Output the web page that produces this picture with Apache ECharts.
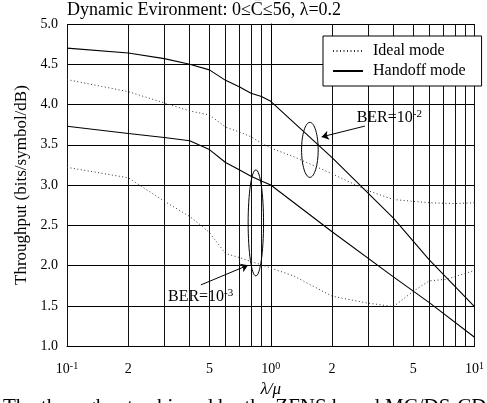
<!DOCTYPE html>
<html>
<head>
<meta charset="utf-8">
<script src="https://cdn.jsdelivr.net/npm/echarts@6/dist/echarts.min.js"></script>
<style>
  html, body { margin: 0; padding: 0; background: #fff; }
  #chart { width: 487px; height: 403px; }
</style>
</head>
<body>
<div id="chart"></div>
<script>
// lambda/mu values and throughput
var idealHighX = [0.1, 0.2, 0.3, 0.4, 0.5, 0.6, 0.7, 0.8, 0.9, 1, 1.3, 2, 3, 4, 6, 8, 10]
var idealHighY = [4.31, 4.16, 4.02, 3.92, 3.87, 3.72, 3.66, 3.60, 3.52, 3.46, 3.35, 3.14, 2.93, 2.82, 2.78, 2.77, 2.78]
var idealLowX = [0.1, 0.2, 0.3, 0.4, 0.47, 0.5, 0.6, 0.7, 0.8, 0.9, 1, 1.3, 2, 2.9, 4, 5, 6, 7.3, 10]
var idealLowY = [3.22, 3.09, 2.80, 2.61, 2.47, 2.41, 2.15, 2.10, 2.05, 2.01, 1.97, 1.87, 1.62, 1.54, 1.49, 1.68, 1.81, 1.83, 1.94]
var handoffHighX = [0.1, 0.2, 0.3, 0.4, 0.5, 0.6, 0.7, 0.8, 0.9, 1, 2, 4, 6, 10]
var handoffHighY = [4.70, 4.64, 4.57, 4.50, 4.43, 4.30, 4.22, 4.14, 4.10, 4.04, 3.34, 2.59, 2.07, 1.49]
var handoffLowX = [0.1, 0.2, 0.3, 0.4, 0.5, 0.6, 0.7, 0.8, 0.9, 1, 2, 4, 6, 10]
var handoffLowY = [3.73, 3.64, 3.59, 3.55, 3.44, 3.28, 3.19, 3.11, 3.05, 3.00, 2.42, 1.86, 1.54, 1.11]

// grid lines of the log axis and the ones that get a label
var xGridValues = [0.1, 0.2, 0.3, 0.4, 0.5, 0.6, 0.7, 0.8, 0.9, 1, 2, 3, 4, 5, 6, 7, 8, 9, 10]
var xLabelValues = [0.1, 0.2, 0.5, 1, 2, 5, 10]
var yTicks = [1.0, 1.5, 2.0, 2.5, 3.0, 3.5, 4.0, 4.5, 5.0]

// annotations: [x, y] in data units
var ber2Ellipse = [1.556, 3.437]
var ber3Ellipse = [0.845, 2.53]
var ber2Arrow = [[2.896, 3.732], [1.777, 3.598]]
var ber3Arrow = [[0.454, 1.760], [0.773, 2.004]]
var ber2Text = [2.64, 3.84]
var ber3Text = [0.313, 1.61]

var serif = 'Liberation Serif'

function toPts(xs, ys) {
    var out = []
    for (var i = 0; i < xs.length; i++) {
        out.push([Math.log10(xs[i]), ys[i]])
    }
    return out
}

function arrowLine(a) {
    return [
        { coord: [Math.log10(a[0][0]), a[0][1]], symbol: 'none' },
        { coord: [Math.log10(a[1][0]), a[1][1]], symbol: 'arrow' }
    ]
}

var dotted = { color: '#333', width: 1, type: [1, 2.5] }
var solid = { color: '#000', width: 1.1, type: 'solid' }

var chart = echarts.init(document.getElementById('chart'))

var option = {
    animation: false,
    backgroundColor: '#fff',
    textStyle: { fontFamily: serif, color: '#000' },
    title: {
        text: 'Dynamic Evironment: 0\u2264C\u0304\u226456, \u03bb=0.2',
        left: 67,
        top: 1,
        padding: 0,
        textStyle: { fontFamily: serif, fontSize: 18, fontWeight: 'normal', color: '#000' }
    },
    legend: {
        data: ['Ideal mode', 'Handoff mode'],
        orient: 'vertical',
        left: 323,
        top: 36,
        padding: [7, 16, 7, 9],
        itemGap: 4,
        itemWidth: 30,
        itemHeight: 14,
        backgroundColor: '#fff',
        borderColor: '#000',
        borderWidth: 1,
        borderRadius: 0,
        selectedMode: false,
        itemStyle: { opacity: 0, borderWidth: 0 },
        textStyle: { fontFamily: serif, fontSize: 16, color: '#000', padding: [0, 0, 0, 5] }
    },
    grid: { left: 67, right: 6, top: 24, bottom: 51 },
    xAxis: {
        type: 'value',
        min: -1,
        max: 1,
        name: '\u03bb/\u03bc',
        nameLocation: 'middle',
        nameGap: 27,
        nameTextStyle: { fontFamily: serif, fontSize: 17, fontStyle: 'italic', color: '#000' },
        axisLine: { show: true, lineStyle: { color: '#000', width: 1 } },
        axisTick: { show: false, customValues: xGridValues.map(function (v) { return Math.log10(v) }) },
        splitLine: { show: true, lineStyle: { color: '#111', width: 1 } },
        axisLabel: {
            customValues: xLabelValues.map(function (v) { return Math.log10(v) }),
            margin: 15,
            formatter: function (val) {
                var e = Math.round(val)
                if (Math.abs(val - e) < 1e-6) {
                    return '{b|10}{s|' + e + '}'
                }
                var m = Math.round(Math.pow(10, val - Math.floor(val)))
                return '{b|' + m + '}'
            },
            rich: {
                b: { fontFamily: serif, fontSize: 14, color: '#000', lineHeight: 16 },
                s: { fontFamily: serif, fontSize: 10, color: '#000', verticalAlign: 'top', lineHeight: 16 }
            }
        }
    },
    yAxis: {
        type: 'value',
        min: 1,
        max: 5,
        interval: 0.5,
        name: 'Throughput (bits/symbol/dB)',
        nameLocation: 'middle',
        nameGap: 36,
        nameTextStyle: { fontFamily: serif, fontSize: 17, color: '#000' },
        axisLine: { show: true, lineStyle: { color: '#000', width: 1 } },
        axisTick: { show: false },
        splitLine: { show: true, lineStyle: { color: '#000', width: 1 } },
        axisLabel: {
            margin: 9,
            fontFamily: serif,
            fontSize: 14,
            color: '#000',
            formatter: function (v) { return v.toFixed(1) }
        }
    },
    series: [
        {
            name: 'Ideal mode', type: 'line', symbol: 'none', showSymbol: false,
            lineStyle: dotted, itemStyle: { color: '#333' }, z: 3,
            data: toPts(idealHighX, idealHighY)
        },
        {
            name: 'Handoff mode', type: 'line', symbol: 'none', showSymbol: false,
            lineStyle: solid, itemStyle: { color: '#000' }, z: 3,
            data: toPts(handoffHighX, handoffHighY),
            markLine: {
                silent: true,
                animation: false,
                symbolSize: 7,
                label: { show: false },
                lineStyle: { color: '#000', width: 1, type: 'solid' },
                emphasis: { disabled: true },
                data: [arrowLine(ber2Arrow), arrowLine(ber3Arrow)]
            }
        },
        {
            name: 'Ideal mode', type: 'line', symbol: 'none', showSymbol: false,
            lineStyle: dotted, itemStyle: { color: '#333' }, z: 3,
            data: toPts(idealLowX, idealLowY)
        },
        {
            name: 'Handoff mode', type: 'line', symbol: 'none', showSymbol: false,
            lineStyle: solid, itemStyle: { color: '#000' }, z: 3,
            data: toPts(handoffLowX, handoffLowY)
        }
    ]
}

chart.setOption(option)

function px(p) {
    return chart.convertToPixel({ gridIndex: 0 }, [Math.log10(p[0]), p[1]])
}

var e2 = px(ber2Ellipse)
var e3 = px(ber3Ellipse)
var t2 = px(ber2Text)
var t3 = px(ber3Text)
var berRich = {
    b: { fontFamily: serif, fontSize: 16, fill: '#000', lineHeight: 18 },
    s: { fontFamily: serif, fontSize: 11, fill: '#000', verticalAlign: 'top', lineHeight: 18 }
}

chart.setOption({
    graphic: [
        {
            type: 'ellipse', z: 10, silent: true,
            shape: { cx: e2[0], cy: e2[1], rx: 8.3, ry: 27.5 },
            style: { fill: 'none', stroke: '#000', lineWidth: 1 }
        },
        {
            type: 'ellipse', z: 10, silent: true,
            shape: { cx: e3[0], cy: e3[1], rx: 7.7, ry: 53 },
            style: { fill: 'none', stroke: '#000', lineWidth: 1 }
        },
        {
            type: 'text', z: 10, silent: true, x: t2[0], y: t2[1],
            style: { text: '{b|BER=10}{s|-2}', rich: berRich, fill: '#000', verticalAlign: 'middle' }
        },
        {
            type: 'text', z: 10, silent: true, x: t3[0], y: t3[1],
            style: { text: '{b|BER=10}{s|-3}', rich: berRich, fill: '#000', verticalAlign: 'middle' }
        },
        {
            type: 'text', z: 10, silent: true, left: 3, top: 397,
            style: { text: 'The throughput achieved by the ZFNS based MC/DS-CDMA', font: '21px "Liberation Serif"', fill: '#000' }
        }
    ]
})
</script>
</body>
</html>
